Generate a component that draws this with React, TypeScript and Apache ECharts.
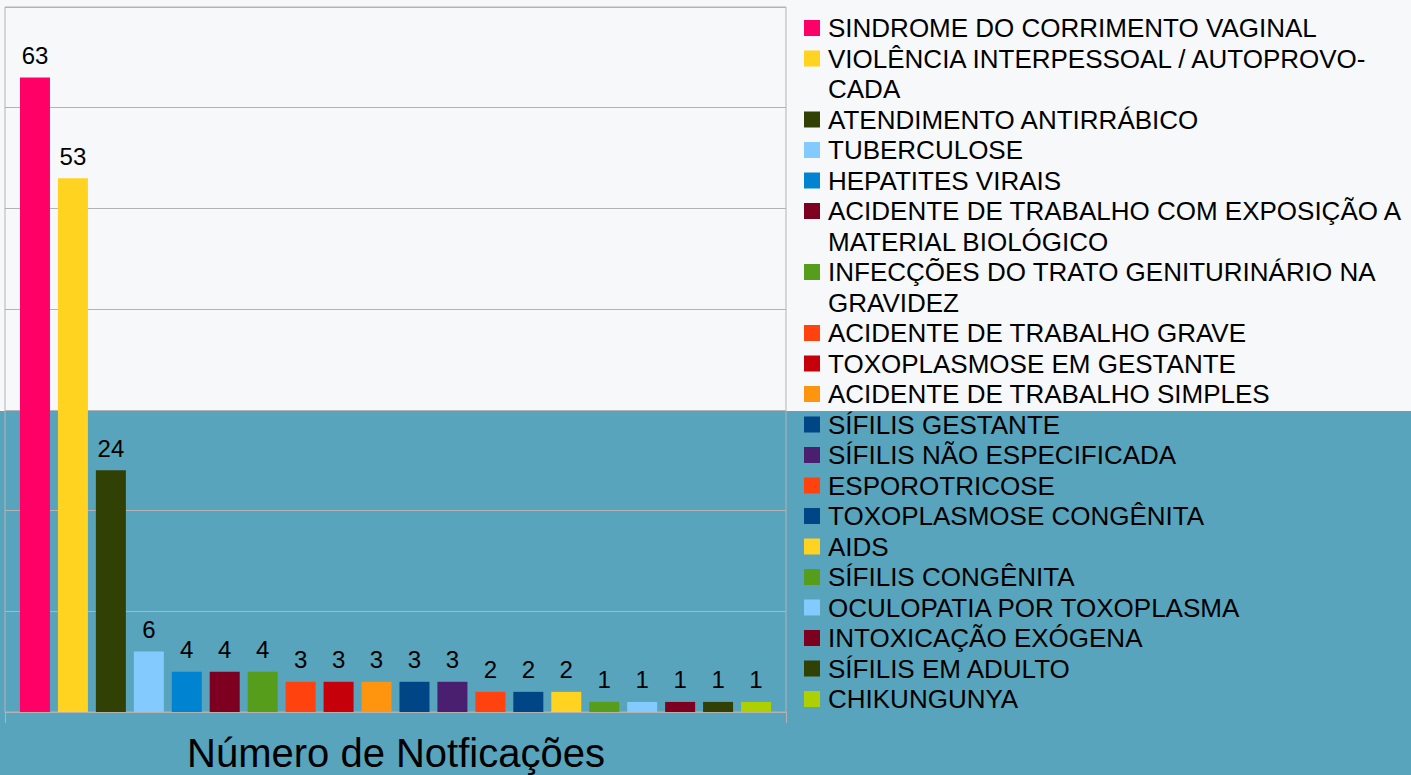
import React, { useEffect, useRef } from 'react';
import * as echarts from 'echarts';

const categories = ['Número de Notficações'];

const diseases = [
  'SINDROME DO CORRIMENTO VAGINAL',
  'VIOLÊNCIA INTERPESSOAL / AUTOPROVOCADA',
  'ATENDIMENTO ANTIRRÁBICO',
  'TUBERCULOSE',
  'HEPATITES VIRAIS',
  'ACIDENTE DE TRABALHO COM EXPOSIÇÃO A MATERIAL BIOLÓGICO',
  'INFECÇÕES DO TRATO GENITURINÁRIO NA GRAVIDEZ',
  'ACIDENTE DE TRABALHO GRAVE',
  'TOXOPLASMOSE EM GESTANTE',
  'ACIDENTE DE TRABALHO SIMPLES',
  'SÍFILIS GESTANTE',
  'SÍFILIS NÃO ESPECIFICADA',
  'ESPOROTRICOSE',
  'TOXOPLASMOSE CONGÊNITA',
  'AIDS',
  'SÍFILIS CONGÊNITA',
  'OCULOPATIA POR TOXOPLASMA',
  'INTOXICAÇÃO EXÓGENA',
  'SÍFILIS EM ADULTO',
  'CHIKUNGUNYA',
];

const counts = [63, 53, 24, 6, 4, 4, 4, 3, 3, 3, 3, 3, 2, 2, 2, 1, 1, 1, 1, 1];

const colors = [
  '#ff0066', '#ffd320', '#314004', '#83caff', '#0084d1', '#7e0021', '#579d1c',
  '#ff420e', '#c5000b', '#ff950e', '#004586', '#4b1f6f', '#ff420e', '#004586',
  '#ffd320', '#579d1c', '#83caff', '#7e0021', '#314004', '#aecf00',
];

// How each legend entry is broken into lines, as in the reference
const legendLines: Record<string, string[]> = {
  'VIOLÊNCIA INTERPESSOAL / AUTOPROVOCADA': ['VIOLÊNCIA INTERPESSOAL / AUTOPROVO-', 'CADA'],
  'ACIDENTE DE TRABALHO COM EXPOSIÇÃO A MATERIAL BIOLÓGICO': ['ACIDENTE DE TRABALHO COM EXPOSIÇÃO A', 'MATERIAL BIOLÓGICO'],
  'INFECÇÕES DO TRATO GENITURINÁRIO NA GRAVIDEZ': ['INFECÇÕES DO TRATO GENITURINÁRIO NA', 'GRAVIDEZ'],
};

const FONT = "'Liberation Sans', Arial, Helvetica, sans-serif";
const LEGEND_FONT = 26;
const LINE = 30.5;
const FIRST_CENTER = 28;
const ICON_TO_TOP = 13;

export default function App() {
  const ref = useRef<HTMLDivElement>(null);

  useEffect(() => {
    if (!ref.current) return;
    const chart = echarts.init(ref.current, null, { renderer: 'svg' });

    const series = diseases.map((name, i) => ({
      type: 'bar',
      name,
      data: [counts[i]],
      barWidth: 30,
      barGap: '26.5%',
      itemStyle: { color: colors[i] },
      label: {
        show: true,
        position: 'top',
        distance: 10,
        color: '#000',
        fontSize: 24,
        fontFamily: FONT,
      },
    }));

    let row = 0;
    const legends = diseases.map((name) => {
      const lines = legendLines[name] || [name];
      const center = FIRST_CENTER + LINE * row;
      row += lines.length;
      return {
        data: [name],
        orient: 'vertical',
        left: 804,
        top: center - ICON_TO_TOP,
        padding: 0,
        itemWidth: 16,
        itemHeight: 16,
        icon: 'rect',
        formatter: (n: string) => (legendLines[n] || [n]).map((l) => `{a|${l}}`).join('\n'),
        textStyle: {
          color: '#000',
          fontSize: LEGEND_FONT,
          fontFamily: FONT,
          height: LINE,
          padding: [0, 0, 0, 3],
          rich: {
            a: { color: '#000', fontSize: LEGEND_FONT, fontFamily: FONT, lineHeight: LINE },
          },
        },
      };
    });

    chart.setOption({
      animation: false,
      backgroundColor: '#f7f8fa',
      title: {
        text: categories[0],
        left: 187,
        top: 733,
        padding: 0,
        textStyle: { color: '#000', fontSize: 40, fontWeight: 'normal', fontFamily: FONT },
      },
      graphic: [
        {
          type: 'rect',
          z: -10,
          silent: true,
          shape: { x: 0, y: 411, width: 1411, height: 364 },
          style: { fill: '#57a4bc' },
        },
      ],
      legend: legends,
      grid: {
        left: 5,
        top: 7,
        right: 625,
        bottom: 63,
        show: true,
        borderColor: '#b3b3b3',
        borderWidth: 1,
        backgroundColor: 'transparent',
      },
      xAxis: {
        type: 'category',
        data: categories,
        axisLabel: { show: false },
        axisLine: { show: true, lineStyle: { color: '#b3b3b3' } },
        axisTick: { show: true, length: 11, lineStyle: { color: '#b3b3b3' } },
      },
      yAxis: {
        type: 'value',
        min: 0,
        max: 70,
        interval: 10,
        axisLabel: { show: false },
        axisLine: { show: false },
        axisTick: { show: false },
        splitLine: { show: true, lineStyle: { color: '#b3b3b3' } },
      },
      series,
    });

    return () => chart.dispose();
  }, []);

  return (
    <div
      ref={ref}
      style={{ position: 'absolute', left: 0, top: 0, width: 1411, height: 775 }}
    />
  );
}
